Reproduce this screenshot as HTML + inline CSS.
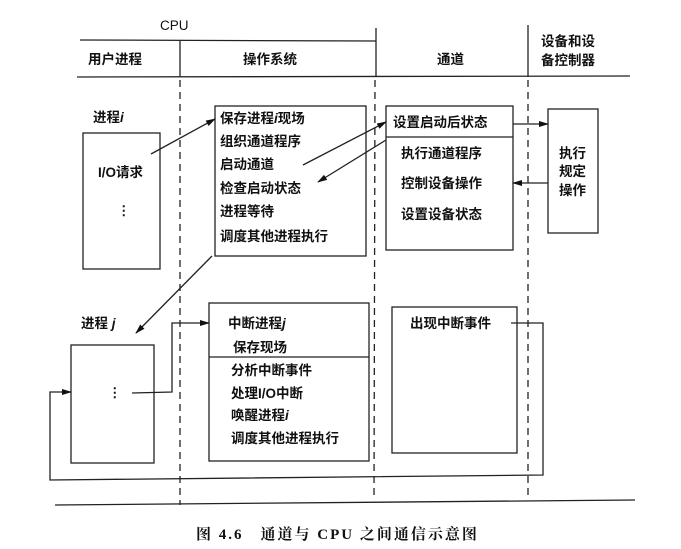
<!DOCTYPE html>
<html><head><meta charset="utf-8"><style>
html,body{margin:0;padding:0;background:#fff;}
svg{display:block;}
text{font-family:"Liberation Sans","Noto Sans CJK SC",sans-serif;font-size:13.5px;fill:#111;font-weight:bold;}
</style></head><body>
<svg width="681" height="549" viewBox="0 0 681 549" xmlns="http://www.w3.org/2000/svg">
<defs><marker id="a" markerWidth="10" markerHeight="8" refX="9" refY="4" orient="auto" markerUnits="userSpaceOnUse"><path d="M0,1 L10,4 L0,7 z" fill="#111"/></marker></defs>
<g stroke="#222" stroke-width="1.3" fill="none">
<line x1="80" y1="40" x2="376" y2="41"/>
<line x1="77" y1="77" x2="630" y2="76"/>
<line x1="180" y1="41" x2="180" y2="77"/>
<line x1="376" y1="28" x2="376" y2="77"/>
<line x1="528" y1="25" x2="528" y2="77"/>
<line x1="180" y1="80" x2="180" y2="505" stroke-dasharray="7,5"/>
<line x1="375" y1="80" x2="374" y2="500" stroke-dasharray="7,5"/>
<line x1="528" y1="80" x2="528" y2="498" stroke-dasharray="7,5"/>
<line x1="55" y1="505" x2="635" y2="500"/>
<rect x="215" y="106" width="151" height="150"/>
<rect x="83" y="133" width="77" height="136"/>
<rect x="386" y="106" width="127" height="144"/>
<line x1="386" y1="137" x2="513" y2="137"/>
<rect x="548" y="109" width="50" height="124"/>
<rect x="71" y="345" width="83" height="118"/>
<rect x="209" y="303" width="160" height="158"/>
<line x1="209" y1="357" x2="369" y2="357"/>
<rect x="392" y="307" width="125" height="146"/>
<line x1="151" y1="154" x2="215" y2="119" marker-end="url(#a)"/>
<line x1="303" y1="165" x2="386" y2="122" marker-end="url(#a)"/>
<line x1="386" y1="140" x2="318" y2="182" marker-end="url(#a)"/>
<line x1="513" y1="124" x2="548" y2="124" marker-end="url(#a)"/>
<line x1="548" y1="183" x2="513" y2="183" marker-end="url(#a)"/>
<line x1="212" y1="256" x2="136" y2="333" marker-end="url(#a)"/>
<polyline points="132,393 172,392 172,323 209,323" marker-end="url(#a)"/>
<polyline points="511,323 543,323 543,475 50,480 50,392 71,392" marker-end="url(#a)"/>
</g>
<text x="160" y="30" style="font-weight:normal">CPU</text>
<text x="88" y="64">用户进程</text>
<text x="243" y="64">操作系统</text>
<text x="437" y="64">通道</text>
<text x="541" y="46">设备和设</text>
<text x="541" y="65">备控制器</text>
<text x="93" y="122">进程<tspan font-style="italic">i</tspan></text>
<text x="98" y="177">I/O请求</text>
<text x="117" y="215">⋮</text>
<text x="220" y="123">保存进程<tspan font-style="italic">i</tspan>现场</text>
<text x="220" y="146">组织通道程序</text>
<text x="220" y="169">启动通道</text>
<text x="220" y="193">检查启动状态</text>
<text x="220" y="216">进程等待</text>
<text x="220" y="241">调度其他进程执行</text>
<text x="393" y="127">设置启动后状态</text>
<text x="401" y="158">执行通道程序</text>
<text x="401" y="188">控制设备操作</text>
<text x="401" y="219">设置设备状态</text>
<text x="559" y="158">执行</text>
<text x="559" y="176">规定</text>
<text x="559" y="195">操作</text>
<text x="81" y="328">进程 <tspan font-style="italic">j</tspan></text>
<text x="108" y="397">⋮</text>
<text x="228" y="328">中断进程<tspan font-style="italic">j</tspan></text>
<text x="233" y="352">保存现场</text>
<text x="231" y="375">分析中断事件</text>
<text x="231" y="398">处理I/O中断</text>
<text x="231" y="420">唤醒进程<tspan font-style="italic">i</tspan></text>
<text x="231" y="443">调度其他进程执行</text>
<text x="410" y="328">出现中断事件</text>
<text x="196" y="539" style="font-family:'Liberation Serif','Noto Serif CJK SC',serif;font-size:15px;letter-spacing:2px">图 4.6　通道与 CPU 之间通信示意图</text>
</svg>
</body></html>
